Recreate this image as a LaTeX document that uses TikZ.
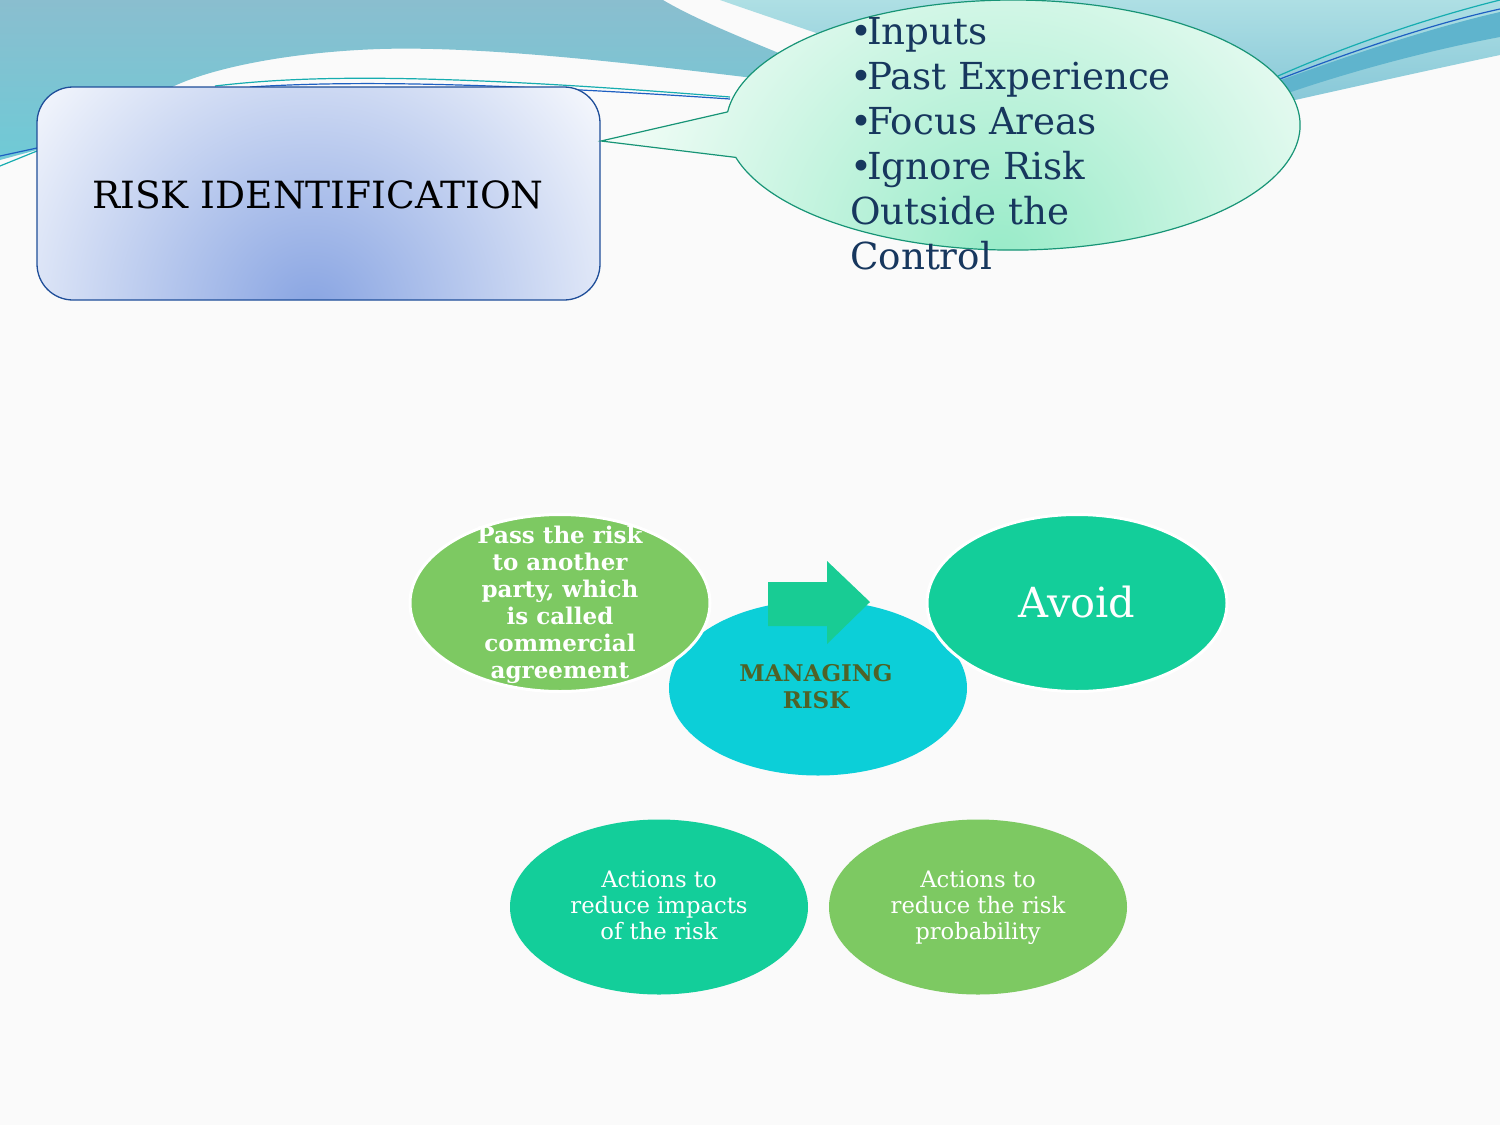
\documentclass[tikz,border=0pt]{standalone}
\usepackage{fontspec}
\setmainfont{DejaVu Serif}
\usetikzlibrary{shapes.geometric}
\definecolor{bgc}{HTML}{FAFAFA}
\definecolor{tealtop}{HTML}{8ABECF}
\definecolor{tealbot}{HTML}{6FCAD6}
\definecolor{ltealtop}{HTML}{AEDFE4}
\definecolor{ltealbot}{HTML}{88C8D8}
\definecolor{dband}{HTML}{5FB4CD}
\definecolor{tline}{HTML}{16ADB0}
\definecolor{bline}{HTML}{1E5FC2}
\definecolor{boxborder}{HTML}{1F4E99}
\definecolor{boxin}{HTML}{88A4E2}
\definecolor{callborder}{HTML}{179476}
\definecolor{callin}{HTML}{98EBC8}
\definecolor{callout}{HTML}{F4FDF8}
\definecolor{navy}{HTML}{17375E}
\definecolor{cyanc}{HTML}{0CCFD8}
\definecolor{greenc}{HTML}{7DC962}
\definecolor{tealc}{HTML}{13CE9A}
\definecolor{arrowc}{HTML}{18CC94}
\definecolor{olive}{HTML}{4F6228}
\tikzset{
  blob/.style={ellipse, minimum width=298pt, minimum height=175pt, inner sep=0pt},
  rimblob/.style={ellipse, minimum width=300pt, minimum height=177pt, inner sep=0pt, draw=white, line width=3pt},
  blobtxt/.style={text=white, align=center, inner sep=0pt},
}
\begin{document}
\begin{tikzpicture}[x=1pt,y=-1pt]
\useasboundingbox (0,0) rectangle (1500,1125);
\fill[bgc] (0,0) rectangle (1500,1125);
% top-right light teal region
\shade[top color=ltealtop, bottom color=ltealbot]
  (720,0) -- (1500,0) -- (1500,55) .. controls (1420,72) and (1340,90) .. (1295,100)
  -- (1000,100) .. controls (900,60) and (800,28) .. (720,0) -- cycle;
% darker band top-right
\fill[dband] (1270,84) .. controls (1350,55) and (1430,28) .. (1500,12)
  -- (1500,37) .. controls (1420,52) and (1340,75) .. (1285,94) -- cycle;
% top-left teal region
\shade[top color=tealtop, bottom color=tealbot]
  (0,0) -- (663,0) .. controls (700,22) and (760,45) .. (820,70) -- (820,80)
  -- (745,77) .. controls (620,62) and (480,46) .. (380,49)
  .. controls (290,52) and (210,68) .. (170,88) -- (170,140) -- (37,150) -- (0,160) -- cycle;
% thin lines
\draw[tline, line width=1.2pt] (0,166) -- (37,151);
\draw[bline, line width=1.2pt] (0,156) -- (37,148);
\draw[tline, line width=1.2pt] (215,86) .. controls (300,76) and (420,72) .. (730,97);
\draw[bline, line width=1.2pt] (250,87) .. controls (330,82) and (450,80) .. (730,99);
\draw[tline, line width=1.2pt] (1278,76) .. controls (1360,40) and (1440,15) .. (1500,0);
\draw[bline, line width=1.2pt] (1280,79) .. controls (1360,48) and (1440,22) .. (1500,9);
% rounded box
\begin{scope}
  \clip[rounded corners=36pt] (37,87) rectangle (600,300);
  \fill[white] (37,87) rectangle (600,300);
  \shade[inner color=boxin, outer color=white] (312,312) circle (390);
\end{scope}
\draw[boxborder, line width=1.3pt, rounded corners=36pt] (37,87) rectangle (600,300);
\node[font=\fontsize{37.5}{45}\selectfont, anchor=base, inner sep=0pt] (title) at (318,208) {RISK IDENTIFICATION};
% callout
\coordinate (cb1) at (727.6,111.9);
\coordinate (tip) at (601,141);
\coordinate (cb2) at (735.8,157.4);
\begin{scope}
  \clip (cb1) -- (tip) -- (cb2)
     arc[start angle=165, end angle=-174, x radius=287, y radius=125] -- cycle;
  \fill[callout] (590,0) rectangle (1310,260);
  \shade[inner color=callin, outer color=callout] (1000,258) circle (410);
\end{scope}
\draw[callborder, line width=1.2pt] (cb1) -- (tip) -- (cb2)
     arc[start angle=165, end angle=-174, x radius=287, y radius=125] -- cycle;
\node[anchor=north west, inner sep=0pt, align=left, text=navy, font=\fontsize{37.2}{45}\selectfont] (list) at (850,17)
  {•\kern-5pt Inputs\\•\kern-5pt Past Experience\\•\kern-5pt Focus Areas\\•\kern-5pt Ignore Risk\\Outside the\\Control};
% managing risk cluster
\node[blob, fill=cyanc] (mr) at (818,688) {};
\node[rimblob, fill=greenc] (pass) at (560,603) {};
\node[rimblob, fill=tealc] (avoid) at (1077,603) {};
\fill[arrowc] (768,582) -- (827,582) -- (827,561) -- (870,602) -- (827,644) -- (827,626) -- (768,626) -- cycle;
\node[blobtxt, font=\bfseries\fontsize{23}{27}\selectfont] (passtxt) at (560,605)
  {Pass the risk\\to another\\party, which\\is called\\commercial\\agreement};
\node[blobtxt, font=\fontsize{41.5}{48}\selectfont] (avoidtxt) at (1077,602) {Avoid};
\node[align=center, inner sep=0pt, text=olive, font=\bfseries\fontsize{23}{27}\selectfont] (mrtxt) at (816,687) {MANAGING\\RISK};
% bottom
\node[blob, fill=tealc] (impact) at (659,907) {};
\node[blob, fill=greenc] (prob) at (978,907) {};
\node[blobtxt, anchor=north, font=\fontsize{22.7}{26}\selectfont] (impacttxt) at (659,871) {Actions to\\reduce impacts\\of the risk};
\node[blobtxt, anchor=north, font=\fontsize{22.7}{26}\selectfont] (probtxt) at (978,871) {Actions to\\reduce the risk\\probability};
\end{tikzpicture}
\end{document}
